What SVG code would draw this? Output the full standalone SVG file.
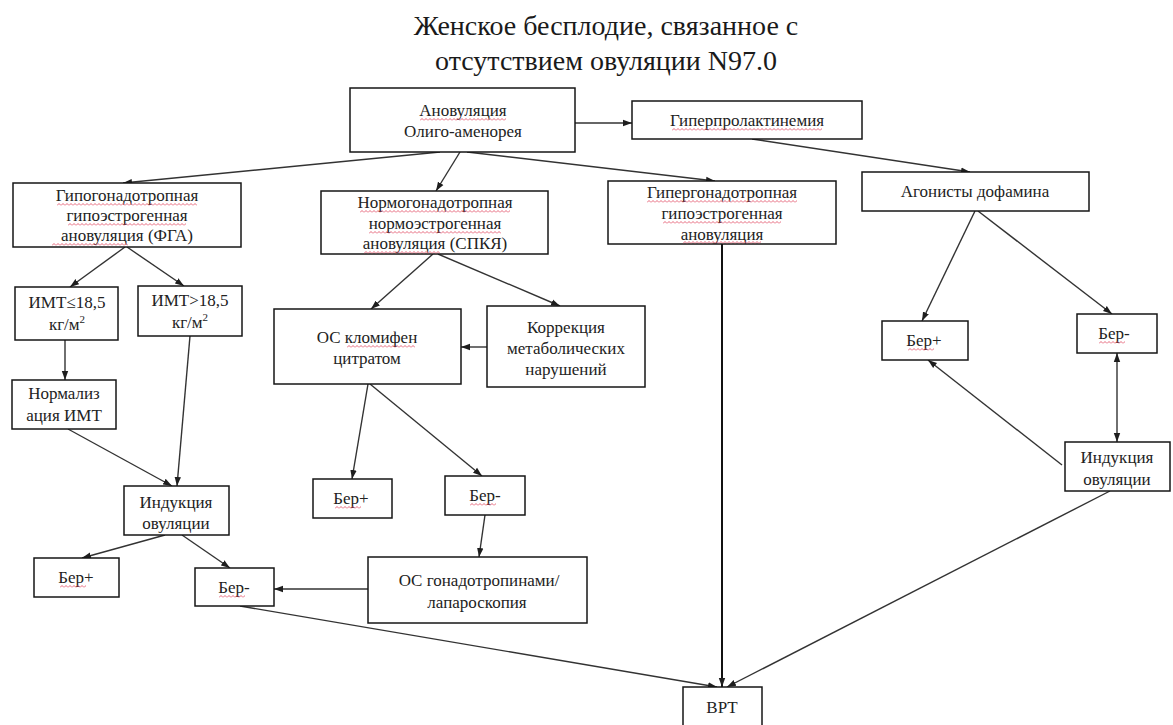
<svg xmlns="http://www.w3.org/2000/svg" width="1173" height="725" viewBox="0 0 1173 725">
<style>
text{font-family:"Liberation Serif","DejaVu Serif","Noto Serif",FreeSerif,"Nimbus Roman",Times,"Times New Roman",serif}
.box{fill:#fff;stroke:#161616;stroke-width:1.5}
.t{font-size:17px;fill:#222;text-anchor:middle}
.title{font-size:28px;fill:#1a1a1a}
.c{fill:none;stroke:#333;stroke-width:1.4;marker-end:url(#ah)}
.cb{fill:none;stroke:#111;stroke-width:2;marker-end:url(#ah)}
.c2{fill:none;stroke:#333;stroke-width:1.4;marker-start:url(#ahs);marker-end:url(#ah)}
.sq{fill:url(#sq)}
</style>
<defs>
<marker id="ah" markerUnits="userSpaceOnUse" markerWidth="10" markerHeight="8" refX="9" refY="4" orient="auto"><path d="M0,0.8 L9,4 L0,7.2 z" fill="#1e1e1e"/></marker>
<marker id="ahs" markerUnits="userSpaceOnUse" markerWidth="10" markerHeight="8" refX="9" refY="4" orient="auto-start-reverse"><path d="M0,0.8 L9,4 L0,7.2 z" fill="#1e1e1e"/></marker>
<pattern id="sq" patternUnits="userSpaceOnUse" width="4" height="3"><path d="M0,2.5 L2,0.5 L4,2.5" fill="none" stroke="#e0405a" stroke-width="0.8"/></pattern>
</defs>

<g id="title">
<text class="t title" x="606" y="35" font-family="Liberation Serif, serif">Женское бесплодие, связанное с</text>
<text class="t title" x="606" y="70" font-family="Liberation Serif, serif">отсутствием овуляции N97.0</text>
</g>

<g id="connectors">
<line class="c" x1="575" y1="123" x2="632" y2="123"/>
<line class="c" x1="440" y1="152" x2="123" y2="183"/>
<line class="c" x1="460" y1="152" x2="436" y2="191"/>
<line class="c" x1="467" y1="152" x2="715" y2="181"/>
<line class="c" x1="752" y1="139" x2="970" y2="172"/>
<line class="c" x1="125" y1="247" x2="70" y2="287"/>
<line class="c" x1="127" y1="247" x2="184" y2="286"/>
<line class="c" x1="65" y1="340" x2="65" y2="380"/>
<line class="c" x1="190" y1="336" x2="177" y2="486"/>
<line class="c" x1="68" y1="429" x2="172" y2="486"/>
<line class="c" x1="165" y1="535" x2="82" y2="558"/>
<line class="c" x1="182" y1="535" x2="230" y2="568"/>
<line class="c" x1="368" y1="589" x2="274" y2="589"/>
<line class="c" x1="240" y1="606" x2="717" y2="687"/>
<line class="c" x1="433" y1="254" x2="371" y2="309"/>
<line class="c" x1="438" y1="254" x2="560" y2="306"/>
<line class="c" x1="487" y1="347" x2="461" y2="347"/>
<line class="c" x1="368" y1="384" x2="352" y2="479"/>
<line class="c" x1="370" y1="384" x2="482" y2="476"/>
<line class="c" x1="485" y1="515" x2="479" y2="557"/>
<line class="cb" x1="722" y1="244" x2="722" y2="687"/>
<line class="c" x1="975" y1="211" x2="922" y2="321"/>
<line class="c" x1="978" y1="211" x2="1112" y2="314"/>
<line class="c" x1="1062" y1="465" x2="928" y2="360"/>
<line class="c2" x1="1117" y1="442" x2="1117" y2="353"/>
<line class="c" x1="1110" y1="491" x2="727" y2="687"/>
</g>

<g id="n-anov">
<rect class="box" x="350" y="88" width="225" height="64"/>
<text class="t" x="463" y="116">Ановуляция</text>
<text class="t" x="463" y="137">Олиго-аменорея</text>
<rect class="sq" x="0" y="0" width="86" height="3" transform="translate(420,118)"/>
</g>

<g id="n-hyperprl">
<rect class="box" x="632" y="101" width="230" height="38"/>
<text class="t" x="747" y="126">Гиперпролактинемия</text>
<rect class="sq" x="0" y="0" width="150" height="3" transform="translate(672,128)"/>
</g>

<g id="n-hypogon">
<rect class="box" x="13" y="183" width="228" height="64"/>
<text class="t" x="127" y="201">Гипогонадотропная</text>
<text class="t" x="127" y="221">гипоэстрогенная</text>
<text class="t" x="127" y="241">ановуляция (ФГА)</text>
<rect class="sq" x="0" y="0" width="140" height="3" transform="translate(57,203)"/>
<rect class="sq" x="0" y="0" width="118" height="3" transform="translate(68,223)"/>
<rect class="sq" x="0" y="0" width="76" height="3" transform="translate(52,243)"/>
</g>

<g id="n-normogon">
<rect class="box" x="321" y="191" width="227" height="63"/>
<text class="t" x="435" y="208">Нормогонадотропная</text>
<text class="t" x="435" y="229">нормоэстрогенная</text>
<text class="t" x="435" y="249">ановуляция (СПКЯ)</text>
<rect class="sq" x="0" y="0" width="150" height="3" transform="translate(360,210)"/>
<rect class="sq" x="0" y="0" width="132" height="3" transform="translate(369,231)"/>
<rect class="sq" x="0" y="0" width="76" height="3" transform="translate(364,251)"/>
</g>

<g id="n-hypergon">
<rect class="box" x="608" y="181" width="228" height="63"/>
<text class="t" x="722" y="198">Гипергонадотропная</text>
<text class="t" x="722" y="219">гипоэстрогенная</text>
<text class="t" x="722" y="240">ановуляция</text>
<rect class="sq" x="0" y="0" width="150" height="3" transform="translate(647,200)"/>
<rect class="sq" x="0" y="0" width="118" height="3" transform="translate(663,221)"/>
<rect class="sq" x="0" y="0" width="78" height="3" transform="translate(683,241)"/>
</g>

<g id="n-agon">
<rect class="box" x="862" y="172" width="227" height="39"/>
<text class="t" x="975" y="197">Агонисты дофамина</text>
</g>

<g id="n-bmi-low">
<rect class="box" x="15" y="287" width="103" height="53"/>
<text class="t" x="67" y="308">ИМТ≤18,5</text>
<text class="t" x="67" y="330">кг/м<tspan font-size="11" dy="-7">2</tspan></text>
</g>

<g id="n-bmi-high">
<rect class="box" x="138" y="286" width="104" height="50"/>
<text class="t" x="190" y="306">ИМТ&gt;18,5</text>
<text class="t" x="190" y="328">кг/м<tspan font-size="11" dy="-7">2</tspan></text>
</g>

<g id="n-normbmi">
<rect class="box" x="12" y="380" width="104" height="49"/>
<text class="t" x="64" y="399">Нормализ</text>
<text class="t" x="64" y="421">ация ИМТ</text>
</g>

<g id="n-ind-left">
<rect class="box" x="124" y="486" width="105" height="49"/>
<text class="t" x="176" y="508">Индукция</text>
<text class="t" x="176" y="529">овуляции</text>
</g>

<g id="n-berp-left">
<rect class="box" x="34" y="558" width="85" height="39"/>
<text class="t" x="76" y="583">Бер+</text>
<rect class="sq" x="0" y="0" width="26" height="3" transform="translate(60,585)"/>
</g>

<g id="n-berm-left">
<rect class="box" x="195" y="568" width="79" height="38"/>
<text class="t" x="234" y="593">Бер-</text>
<rect class="sq" x="0" y="0" width="26" height="3" transform="translate(219,595)"/>
</g>

<g id="n-os-gon">
<rect class="box" x="368" y="557" width="219" height="66"/>
<text class="t" x="479" y="586">ОС гонадотропинами/</text>
<text class="t" x="477" y="608">лапароскопия</text>
</g>

<g id="n-vrt">
<rect class="box" x="683" y="687" width="79" height="50"/>
<text class="t" x="722" y="713">ВРТ</text>
</g>

<g id="n-clomi">
<rect class="box" x="274" y="309" width="187" height="75"/>
<text class="t" x="367" y="343">ОС кломифен</text>
<text class="t" x="367" y="364">цитратом</text>
<rect class="sq" x="0" y="0" width="68" height="3" transform="translate(347,345)"/>
</g>

<g id="n-corr">
<rect class="box" x="487" y="306" width="158" height="81"/>
<text class="t" x="566" y="333">Коррекция</text>
<text class="t" x="566" y="354">метаболических</text>
<text class="t" x="566" y="375">нарушений</text>
</g>

<g id="n-berp-mid">
<rect class="box" x="313" y="479" width="79" height="39"/>
<text class="t" x="351" y="504">Бер+</text>
<rect class="sq" x="0" y="0" width="26" height="3" transform="translate(335,506)"/>
</g>

<g id="n-berm-mid">
<rect class="box" x="445" y="476" width="80" height="39"/>
<text class="t" x="485" y="501">Бер-</text>
<rect class="sq" x="0" y="0" width="26" height="3" transform="translate(470,503)"/>
</g>

<g id="n-berp-right">
<rect class="box" x="882" y="321" width="86" height="39"/>
<text class="t" x="924" y="346">Бер+</text>
<rect class="sq" x="0" y="0" width="26" height="3" transform="translate(908,348)"/>
</g>

<g id="n-berm-right">
<rect class="box" x="1077" y="314" width="80" height="39"/>
<text class="t" x="1114" y="339">Бер-</text>
<rect class="sq" x="0" y="0" width="26" height="3" transform="translate(1099,341)"/>
</g>

<g id="n-ind-right">
<rect class="box" x="1065" y="442" width="105" height="49"/>
<text class="t" x="1117" y="463">Индукция</text>
<text class="t" x="1117" y="485">овуляции</text>
</g>
</svg>
